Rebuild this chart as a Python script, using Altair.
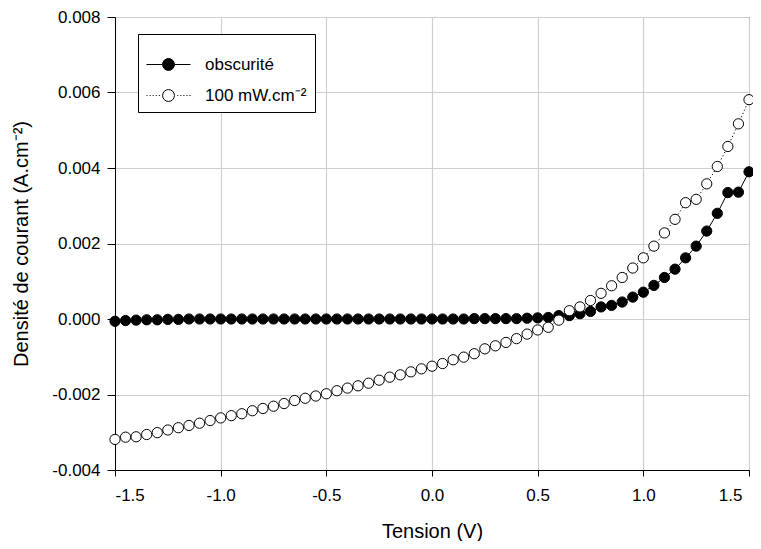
import altair as alt
import pandas as pd

tension = [-1.5, -1.45, -1.4, -1.35, -1.3, -1.25, -1.2, -1.15, -1.1, -1.05,
           -1.0, -0.95, -0.9, -0.85, -0.8, -0.75, -0.7, -0.65, -0.6, -0.55,
           -0.5, -0.45, -0.4, -0.35, -0.3, -0.25, -0.2, -0.15, -0.1, -0.05,
           0.0, 0.05, 0.1, 0.15, 0.2, 0.25, 0.3, 0.35, 0.4, 0.45,
           0.5, 0.55, 0.6, 0.65, 0.7, 0.75, 0.8, 0.85, 0.9, 0.95,
           1.0, 1.05, 1.1, 1.15, 1.2, 1.25, 1.3, 1.35, 1.4, 1.45, 1.5]

obscurite = [-0.00006, -0.00004, -0.00003, -0.00002, -0.00002, -0.00001, -0.00001, 0.0, 0.0, 0.0,
             0.0, 0.0, 0.0, 0.0, 0.0, 0.0, 0.0, 0.0, 0.0, 0.0,
             0.0, 0.0, 0.0, 0.0, 0.0, 0.0, 0.0, 0.0, 0.0, 0.0,
             0.0, 0.0, 0.0, 0.0, 0.00001, 0.00001, 0.00001, 0.00001, 0.00001, 0.00002,
             0.00003, 0.00004, 0.00009, 0.00009, 0.00014, 0.0002, 0.00032, 0.00036, 0.00045, 0.00058,
             0.00071, 0.00089, 0.0011, 0.00132, 0.00162, 0.00193, 0.00233, 0.0028, 0.00335, 0.00336, 0.0039]

eclaire = [-0.00319, -0.00313, -0.00312, -0.00306, -0.00301, -0.00294, -0.00288, -0.00282, -0.00276, -0.00269,
           -0.00262, -0.00256, -0.00251, -0.00243, -0.00237, -0.00231, -0.00224, -0.00216, -0.0021, -0.00204,
           -0.00198, -0.0019, -0.00183, -0.00177, -0.0017, -0.00162, -0.00154, -0.00148, -0.0014, -0.00132,
           -0.00125, -0.00118, -0.00108, -0.00101, -0.00092, -0.00079, -0.00071, -0.00062, -0.00052, -0.0004,
           -0.00029, -0.00022, -0.00003, 0.00022, 0.00032, 0.00049, 0.00068, 0.00088, 0.0011, 0.00135,
           0.00162, 0.00193, 0.00228, 0.00264, 0.00308, 0.00317, 0.00358, 0.00404, 0.00457, 0.00517, 0.00581]

series_names = ["obscurité", "100 mW.cm⁻²"]

x_ticks = [-1.5, -1.0, -0.5, 0.0, 0.5, 1.0, 1.5]
y_ticks = [-0.004, -0.002, 0.0, 0.002, 0.004, 0.006, 0.008]

rows = []
for name, vals in zip(series_names, [obscurite, eclaire]):
    for v, j in zip(tension, vals):
        rows.append({"V": v, "J": j, "serie": name})
df = pd.DataFrame(rows)

FONT = "Liberation Sans"
HYPHEN = "replace(datum.label, '\u2212', '-')"

x = alt.X("V:Q",
          scale=alt.Scale(domain=[-1.5, 1.5], nice=False, zero=False),
          axis=alt.Axis(values=x_ticks, format=".1f", title="Tension (V)", labelExpr=HYPHEN,
                        labelOffset={"condition": {"test": "datum.value == 1.5", "value": -7}, "value": 0},
                        tickSize=6, labelPadding=11, titlePadding=18))
y = alt.Y("J:Q",
          scale=alt.Scale(domain=[-0.004, 0.008], nice=False, zero=False),
          axis=alt.Axis(values=y_ticks, format=".3f", title="Densité de courant (A.cm⁻²)",
                        labelExpr=HYPHEN, tickSize=8, labelPadding=7, titlePadding=20))

base = alt.Chart(df)

line_dark = base.transform_filter(alt.datum.serie == series_names[0]).mark_line(
    color="black", strokeWidth=1).encode(x=x, y=y)
line_light = base.transform_filter(alt.datum.serie == series_names[1]).mark_line(
    color="black", strokeWidth=1, strokeDash=[1.2, 2.4]).encode(x=x, y=y)

points = base.mark_point(shape="circle", filled=True, size=105, stroke="black",
                         strokeWidth=1, opacity=1).encode(
    x=x, y=y,
    fill=alt.Fill("serie:N", scale=alt.Scale(domain=series_names, range=["black", "white"]),
                  legend=None),
)

# legend symbols: line + circle; the solid entry's disc is filled with concentric rings
def ring(r):
    return f"M{r},0A{r},{r},0,1,1,-{r},0A{r},{r},0,1,1,{r},0Z"

R = 0.27
path_solid = f"M-1,0L-{R},0M{R},0L1,0" + "".join(ring(r) for r in [0.27, 0.22, 0.18, 0.13, 0.09, 0.04])
dots_left = "".join(f"M{a:.2f},0L{a + 0.045:.3f},0" for a in [-1.0, -0.86, -0.72, -0.58, -0.44])
dots_right = "".join(f"M{a:.2f},0L{a + 0.045:.3f},0" for a in [0.4, 0.54, 0.68, 0.82, 0.955])
path_dotted = dots_left + dots_right + ring(R)

leg = alt.Legend(title=None, orient="none", legendX=23, legendY=17,
                 strokeColor="black", fillColor="white", padding=8,
                 labelFont=FONT, labelFontSize=17, labelColor="black", labelOffset=14,
                 symbolSize=1936, symbolStrokeColor="black", symbolStrokeWidth=1,
                 symbolFillColor="white", symbolOpacity=1, rowPadding=-5)

legend_layer = base.mark_point(filled=False, size=1936, strokeWidth=1).encode(
    x=x, y=y,
    shape=alt.Shape("serie:N", scale=alt.Scale(domain=series_names, range=[path_solid, path_dotted]),
                    legend=leg),
    opacity=alt.value(0),
)

chart = alt.layer(legend_layer, line_dark, line_light, points).properties(
    width=634, height=453,
    autosize=alt.AutoSizeParams(type="none"),
    padding={"left": 107, "top": 9, "right": 4, "bottom": 71},
).configure_view(stroke="black", strokeWidth=1).configure_axis(
    labelFont=FONT, titleFont=FONT, labelFontSize=17, titleFontSize=20,
    labelColor="black", titleColor="black", titleFontWeight="normal",
    domainColor="black", domainWidth=1, tickColor="black", tickWidth=1,
    gridColor="#cfcfcf", gridWidth=1.2,
)

chart.save("out.html", embed_options={"renderer": "svg", "actions": False})
